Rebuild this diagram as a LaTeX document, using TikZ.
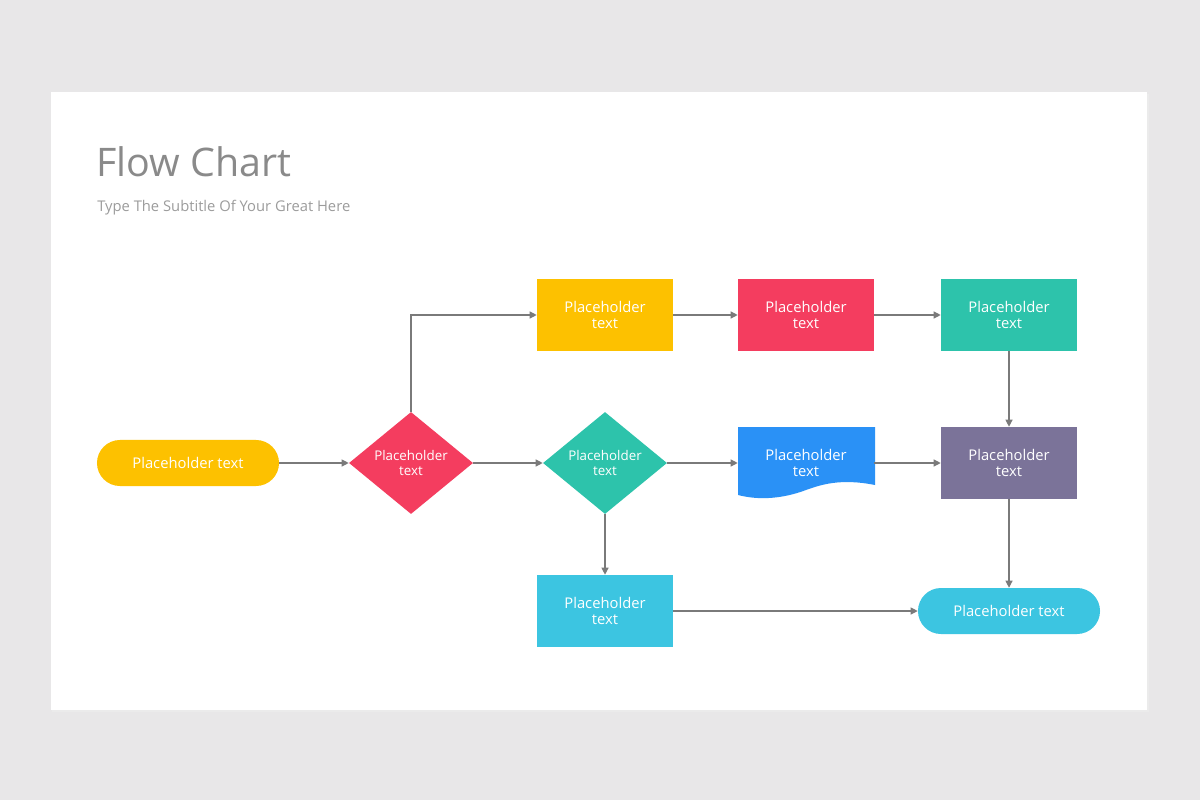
\documentclass[tikz,border=0pt]{standalone}
\usepackage{fontspec}
\setmainfont{Open Sans}
\usepackage{tikz}
\usetikzlibrary{arrows.meta, positioning, shapes.geometric}
\definecolor{pageGray}{HTML}{E8E7E8}
\definecolor{lineGray}{HTML}{7A7A7A}
\definecolor{titleGray}{HTML}{8A8A8A}
\definecolor{fcYellow}{HTML}{FDC100}
\definecolor{fcRed}{HTML}{F43D5F}
\definecolor{fcTeal}{HTML}{2DC3AB}
\definecolor{fcBlue}{HTML}{2A91F6}
\definecolor{fcPurple}{HTML}{7B7399}
\definecolor{fcCyan}{HTML}{3CC5E1}
\tikzset{
  box/.style={rectangle, minimum width=3.4cm, minimum height=1.8cm, text=white,
    align=center, font=\fontsize{10.5}{12}\selectfont, inner sep=0pt},
  terminal/.style={box, rounded corners=0.575cm, minimum width=4.55cm, minimum height=1.15cm},
  decision/.style={diamond, minimum width=3.1cm, minimum height=2.55cm, text=white,
    align=center, font=\fontsize{9.5}{11}\selectfont, inner sep=0pt},
  link/.style={draw=lineGray, line width=0.8pt, -{Triangle[length=5pt,width=5pt]}}
}
\begin{document}
\begin{tikzpicture}[x=0.025cm, y=-0.025cm]
\useasboundingbox (0,0) rectangle (1200,800);
\fill[pageGray] (0,0) rectangle (1200,800);
\fill[black!8] (52,94) rectangle (1149,712);
\fill[white] (51,92) rectangle (1147,710);
% title
\node[anchor=west, text=titleGray, font=\fontsize{28}{32}\selectfont, inner sep=0pt] (title) at (96,162) {Flow Chart};
\node[anchor=west, text=titleGray!85, font=\fontsize{10.5}{12}\selectfont, inner sep=0pt] (subtitle) at (97,208) {Type The Subtitle Of Your Great Here};
% document shape
\fill[fcBlue] (738,427) -- (875,427) -- (875,485)
  .. controls (840,478) and (820,485) .. (806,490)
  .. controls (790,496) and (765,502) .. (738,495) -- cycle;
% nodes
\node[terminal, fill=fcYellow] (start) at (188,463) {Placeholder text};
\node[decision, fill=fcRed] (decA) at (411,463) {Placeholder\\text};
\node[decision, fill=fcTeal] (decB) at (605,463) {Placeholder\\text};
\node[box, fill=fcYellow] (stepA) at (605,315) {Placeholder\\text};
\node[box, fill=fcRed] (stepB) at (806,315) {Placeholder\\text};
\node[box, fill=fcTeal] (stepC) at (1009,315) {Placeholder\\text};
\node[box] (doc) at (806,463) {Placeholder\\text};
\node[box, fill=fcPurple] (stepD) at (1009,463) {Placeholder\\text};
\node[box, fill=fcCyan] (stepE) at (605,611) {Placeholder\\text};
\node[terminal, fill=fcCyan] (finish) at (1009,611) {Placeholder text};
% connectors
\draw[link] (start) -- (decA);
\draw[link] (decA.north) |- (stepA.west);
\draw[link] (stepA) -- (stepB);
\draw[link] (stepB) -- (stepC);
\draw[link] (stepC) -- (stepD);
\draw[link] (decA) -- (decB);
\draw[link] (decB) -- (doc);
\draw[link] (doc) -- (stepD);
\draw[link] (decB) -- (stepE);
\draw[link] (stepD) -- (finish);
\draw[link] (stepE) -- (finish);
\end{tikzpicture}
\end{document}
